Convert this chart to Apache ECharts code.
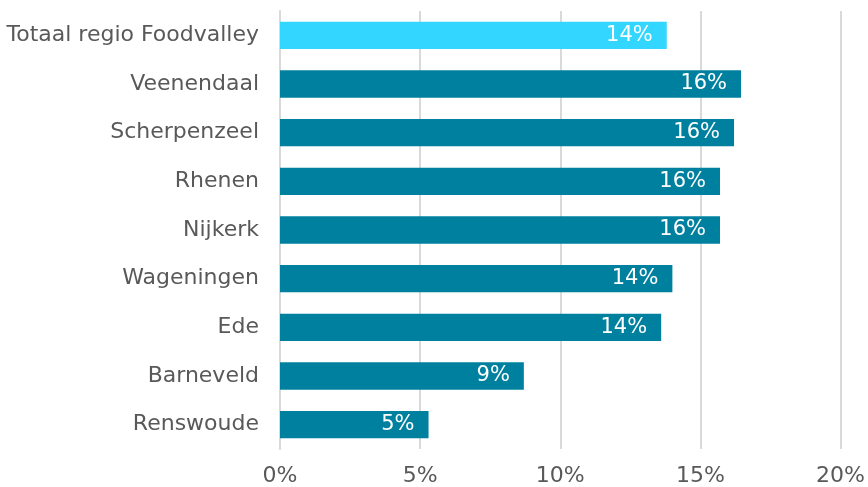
<!DOCTYPE html>
<html>
<head>
<meta charset="utf-8">
<script src="https://cdn.jsdelivr.net/npm/echarts@6/dist/echarts.min.js"></script>
<style>
  html, body { margin: 0; padding: 0; background: #fff; }
  #chart { width: 868px; height: 487px; }
</style>
</head>
<body>
<div id="chart"></div>
<script>
// categories bottom -> top
const regions = ['Renswoude', 'Barneveld', 'Ede', 'Wageningen', 'Nijkerk', 'Rhenen', 'Scherpenzeel', 'Veenendaal', 'Totaal regio Foodvalley']
const shares = [5.3, 8.7, 13.6, 14.0, 15.7, 15.7, 16.2, 16.45, 13.8]
const xTicks = [0, 5, 10, 15, 20]

const dark = '#00809f'
const light = '#33d6ff'
const txt = '#595959'

const chart = echarts.init(document.getElementById('chart'))
chart.setOption({
  animation: false,
  grid: { left: 280, right: 27, top: 11, bottom: 38, containLabel: false },
  xAxis: {
    type: 'value',
    min: xTicks[0],
    max: xTicks[xTicks.length - 1],
    interval: 5,
    axisLine: { show: false },
    axisTick: { show: false },
    splitLine: { lineStyle: { color: '#d9d9d9', width: 2 } },
    axisLabel: {
      formatter: v => v + '%',
      color: txt,
      fontFamily: 'DejaVu Sans',
      fontSize: 22,
      margin: 16
    }
  },
  yAxis: {
    type: 'category',
    data: regions,
    axisLine: { show: true, lineStyle: { color: '#d9d9d9', width: 2 } },
    axisTick: { show: false },
    axisLabel: {
      color: txt,
      fontFamily: 'DejaVu Sans',
      fontSize: 22,
      margin: 21
    }
  },
  series: [{
    type: 'bar',
    barCategoryGap: '44%',
    data: shares.map((v, i) => ({
      value: v,
      itemStyle: { color: i === shares.length - 1 ? light : dark }
    })),
    label: {
      show: true,
      position: 'insideRight',
      distance: 14,
      formatter: p => Math.round(p.value) + '%',
      color: '#fff',
      fontFamily: 'DejaVu Sans',
      fontSize: 21
    }
  }]
})
</script>
</body>
</html>
